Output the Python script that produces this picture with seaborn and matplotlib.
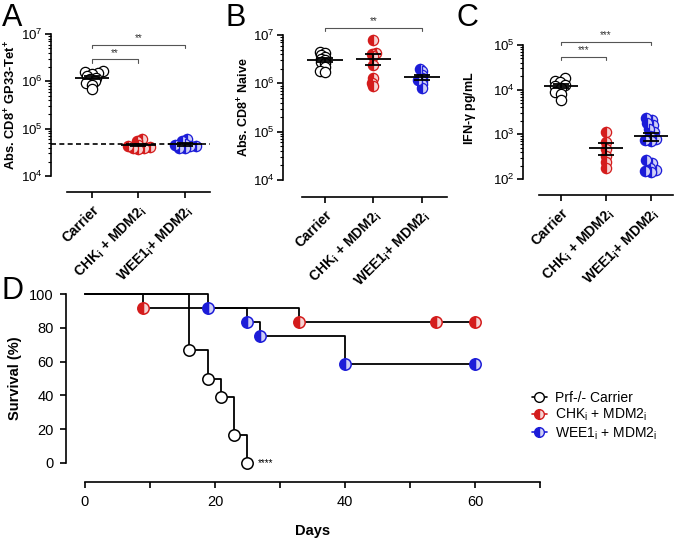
import numpy as np
import pandas as pd
import seaborn as sns
import matplotlib.pyplot as plt
from matplotlib.lines import Line2D

sns.set_style("ticks")
plt.rcParams["font.family"] = ["Liberation Sans", "DejaVu Sans"]
plt.rcParams.update({
    "mathtext.fontset": "custom",
    "mathtext.rm": "Liberation Sans",
    "mathtext.it": "Liberation Sans:italic",
    "mathtext.bf": "Liberation Sans:bold",
    "axes.edgecolor": "black",
    "xtick.color": "black",
    "ytick.color": "black",
    "text.color": "black",
    "axes.labelcolor": "black",
})

# categories
groups = ["Carrier", "CHK", "WEE1"]
tick_labels = ["Carrier",
               r"CHK$_\mathregular{i}$ + MDM2$_\mathregular{i}$",
               r"WEE1$_\mathregular{i}$+ MDM2$_\mathregular{i}$"]

# panel A: Abs. CD8+ GP33-Tet+
a_carrier = [1.65e6, 1.55e6, 1.5e6, 1.45e6, 1.3e6, 1.2e6, 1.1e6, 1.0e6, 0.9e6, 0.85e6, 0.7e6]
a_chk = [6.0e4, 5.5e4, 4.6e4, 4.3e4, 4.1e4, 4.0e4, 3.9e4, 3.8e4]
a_wee1 = [6.0e4, 5.6e4, 4.8e4, 4.5e4, 4.3e4, 4.2e4, 4.0e4, 3.9e4]
a_cutoff = 4.8e4

# panel B: Abs. CD8+ naive
b_carrier = [4.4e6, 4.2e6, 3.8e6, 3.5e6, 3.2e6, 3.0e6, 2.8e6, 2.6e6, 2.2e6, 1.8e6, 1.7e6]
b_chk = [7.8e6, 4.3e6, 4.0e6, 3.6e6, 2.4e6, 1.3e6, 1.0e6, 0.9e6]
b_wee1 = [2.0e6, 1.8e6, 1.5e6, 1.3e6, 1.2e6, 1.1e6, 0.95e6, 0.8e6]

# panel C: IFN-gamma pg/mL
c_carrier = [1.8e4, 1.6e4, 1.5e4, 1.3e4, 1.2e4, 1.1e4, 9e3, 8e3, 6e3]
c_chk = [1.1e3, 6.6e2, 4.6e2, 3.2e2, 2.4e2, 1.75e2]
c_wee1 = [2.3e3, 2.1e3, 1.8e3, 1.6e3, 1.3e3, 1.1e3, 9.0e2, 8.0e2, 7.5e2, 7.0e2,
          2.6e2, 2.3e2, 1.8e2, 1.6e2, 1.5e2, 1.4e2]

# panel D: survival
surv_names = ["Prf-/- Carrier",
              r"CHK$_\mathregular{i}$ + MDM2$_\mathregular{i}$",
              r"WEE1$_\mathregular{i}$ + MDM2$_\mathregular{i}$"]
carrier_days = [0, 16, 19, 21, 23, 25]
carrier_surv = [100, 66.7, 50, 38.9, 16.7, 0]
chk_days = [0, 9, 33, 54, 60]
chk_surv = [100, 91.7, 83.3, 83.3, 83.3]
wee1_days = [0, 19, 25, 27, 40, 60]
wee1_surv = [100, 91.7, 83.3, 75, 58.3, 58.3]
day_ticks = [0, 10, 20, 30, 40, 50, 60, 70]
day_labels = ["0", "", "20", "", "40", "", "60", ""]
surv_ticks = [0, 20, 40, 60, 80, 100]

edge = {"Carrier": "black", "CHK": "#d41c1c", "WEE1": "#1c1cd8"}
face = {"Carrier": "white", "CHK": "#d41c1c", "WEE1": "#1c1cd8"}
face_alt = {"Carrier": "white", "CHK": "#f6d2d2", "WEE1": "#cfcff6"}

W, H = 677, 542
fig = plt.figure(figsize=(W / 100, H / 100), dpi=100)


def px_axes(left, top, right, bottom):
    return fig.add_axes([left / W, 1 - bottom / H, (right - left) / W, (bottom - top) / H])


def bracket(ax, x0, x1, y, text, drop=0.85):
    ax.plot([x0, x0, x1, x1], [y * drop, y, y, y * drop], color="#555555", lw=0.8,
            clip_on=False, zorder=5)
    ax.text((x0 + x1) / 2, y * 1.08, text, ha="center", va="bottom", fontsize=7,
            color="#333333", clip_on=False)


def dot_panel(ax, values, ylim, xlim, spine_lo, spine_hi, offset_px, ylabel, label_xy,
              label_size):
    df = pd.DataFrame({
        "group": np.repeat(groups, [len(v) for v in values]),
        "value": np.concatenate(values),
    })
    sns.swarmplot(data=df, x="group", y="value", order=groups, hue="group",
                  palette=edge, size=4.6, log_scale=True, legend=False, ax=ax)
    fig.canvas.draw()
    for coll in list(ax.collections):
        offs = np.asarray(coll.get_offsets())
        if len(offs) == 0:
            continue
        g = groups[int(round(np.median(offs[:, 0])))]
        fs = "full" if g == "Carrier" else "left"
        ax.plot(offs[:, 0], offs[:, 1], "o", ms=7.4, mew=0.9, mec=edge[g], mfc=face[g],
                mfcalt=face_alt[g], fillstyle=fs, ls="none", zorder=3, clip_on=False)
        coll.remove()

    for i, v in enumerate(values):
        m = np.mean(v)
        se = np.std(v, ddof=1) / np.sqrt(len(v))
        ax.hlines(m, i - 0.37, i + 0.37, color="black", lw=1.3, zorder=4)
        ax.errorbar(i, m, yerr=se, fmt="none", ecolor="black", elinewidth=1.3,
                    capsize=6, capthick=1.3, zorder=4)

    ax.set_ylim(*ylim)
    ax.set_xlim(*xlim)
    for s in ["top", "right"]:
        ax.spines[s].set_visible(False)
    ax.spines["bottom"].set_position(("outward", offset_px * 0.72))
    ax.spines["bottom"].set_bounds(spine_lo, spine_hi)
    ax.spines["bottom"].set_linewidth(1.2)
    ax.spines["left"].set_linewidth(1.2)
    ax.tick_params(axis="x", length=4, width=1.2, pad=4)
    ax.tick_params(axis="y", which="major", length=4, width=1.2, labelsize=9.6, pad=2)
    ax.tick_params(axis="y", which="minor", length=2.2, width=0.8)
    ax.set_xticks([0, 1, 2])
    ax.set_xticklabels(tick_labels)
    plt.setp(ax.get_xticklabels(), rotation=45, ha="right", va="top",
             rotation_mode="anchor", fontweight="bold", fontsize=10)
    ax.set_xlabel("")
    ax.set_ylabel(ylabel, fontweight="bold", fontsize=label_size)
    ax.yaxis.set_label_coords(*label_xy)


# panel A
axA = px_axes(51, 34, 210, 176)
dot_panel(axA, [a_carrier, a_chk, a_wee1], (1e4, 1e7), (-0.88, 2.54), -0.54, 2.54, 16,
          r"Abs. CD8$^\mathbf{+}$ GP33-Tet$^\mathbf{+}$", (-0.205, 0.5), 9.3)
axA.axhline(a_cutoff, xmin=0, xmax=1, color="black", ls=(0, (3, 2)), lw=1.2, zorder=5)
bracket(axA, 0, 1, 2.9e6, "**")
bracket(axA, 0, 2, 5.9e6, "**")

# panel B
axB = px_axes(283, 35, 447, 180)
dot_panel(axB, [b_carrier, b_chk, b_wee1], (1e4, 1e7), (-0.87, 2.52), -0.47, 2.52, 17,
          r"Abs. CD8$^\mathbf{+}$ Naive", (-0.19, 0.5), 9)
bracket(axB, 0, 2, 1.4e7, "**")

# panel C
axC = px_axes(523, 45, 673, 179)
dot_panel(axC, [c_carrier, c_chk, c_wee1], (1e2, 1e5), (-0.84, 2.49), -0.49, 2.49, 16,
          r"IFN-$\mathbf{\gamma}$ pg/mL", (-0.30, 0.53), 9)
bracket(axC, 0, 1, 5.4e4, "***")
bracket(axC, 0, 2, 1.17e5, "***")

# panel D
axD = px_axes(66, 294, 540, 463)
curves = [(carrier_days, carrier_surv, "Carrier"),
          (chk_days, chk_surv, "CHK"),
          (wee1_days, wee1_surv, "WEE1")]
for days, surv, g in curves:
    sns.lineplot(x=days, y=surv, estimator=None, drawstyle="steps-post", color="black",
                 lw=1.3, clip_on=False, ax=axD, zorder=2)
for days, surv, g in curves:
    fs = "full" if g == "Carrier" else "left"
    axD.plot(days[1:], surv[1:], "o", ms=8.2, mew=1.1, mec=edge[g], mfc=face[g],
             mfcalt=face_alt[g], fillstyle=fs, ls="none", clip_on=False, zorder=3)
axD.text(26.6, 0, "****", fontsize=7, va="center", ha="left")
axD.set_xlim(-2.92, 70)
axD.set_ylim(0, 100)
for s in ["top", "right"]:
    axD.spines[s].set_visible(False)
axD.spines["bottom"].set_position(("outward", 19 * 0.72))
axD.spines["bottom"].set_bounds(0, 70)
axD.spines["left"].set_bounds(0, 100)
axD.spines["bottom"].set_linewidth(1.2)
axD.spines["left"].set_linewidth(1.2)
axD.tick_params(length=4, width=1.2, labelsize=10.5, pad=5)
axD.set_xticks(day_ticks)
axD.set_xticklabels(day_labels)
axD.set_yticks(surv_ticks)
axD.set_xlabel("Days", fontweight="bold", fontsize=10.5)
axD.xaxis.set_label_coords(0.52, -0.36)
axD.set_ylabel("Survival (%)", fontweight="bold", fontsize=10.5)
axD.yaxis.set_label_coords(-0.093, 0.5)

handles = []
for g in groups:
    fs = "full" if g == "Carrier" else "left"
    handles.append(Line2D([0], [0], color=edge[g], lw=1.2, marker="o", ms=7, mew=1.0,
                          mec=edge[g], mfc=face[g], mfcalt=face_alt[g], fillstyle=fs))
fig.legend(handles, surv_names, loc="upper left", bbox_to_anchor=(526 / W, 1 - 385 / H),
           frameon=False, fontsize=10, handlelength=1.1, handletextpad=0.6,
           labelspacing=0.15, borderaxespad=0)

# panel letters
for letter, x, y in [("A", 2, 3), ("B", 225, 3), ("C", 457, 3), ("D", 2, 276)]:
    fig.text(x / W, 1 - y / H, letter, fontsize=22, va="top", ha="left")

fig.savefig("out.png", dpi=100)
